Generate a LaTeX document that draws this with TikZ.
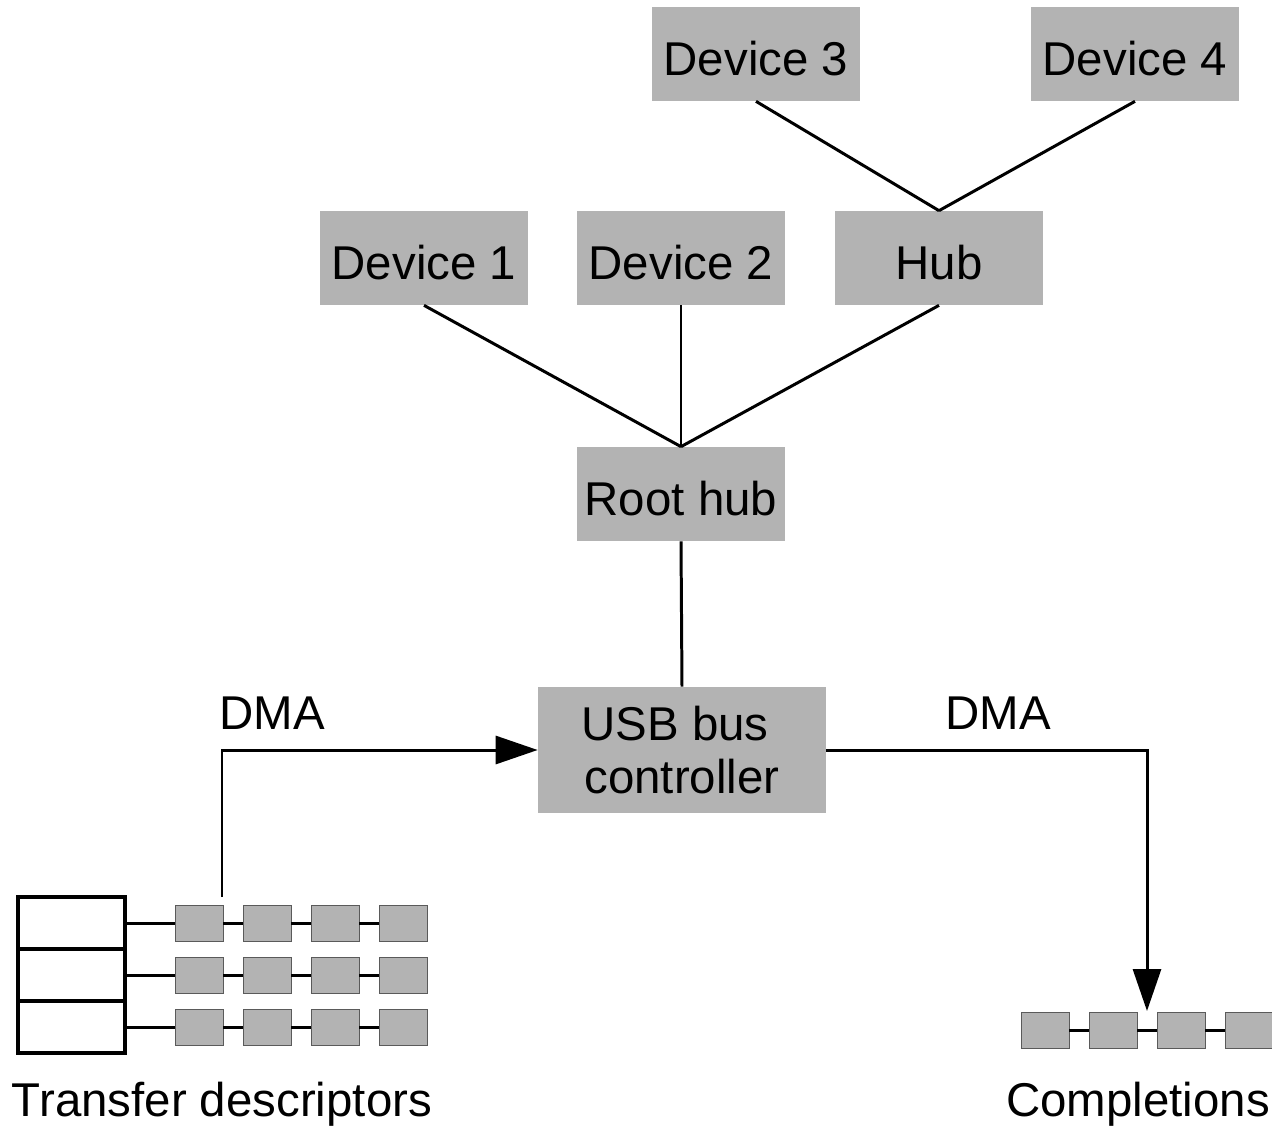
\documentclass[tikz,border=0pt]{standalone}
\usepackage{fontspec}
\setmainfont{Liberation Sans}
\usetikzlibrary{arrows.meta,positioning}
\definecolor{boxgray}{RGB}{179,179,179}
\definecolor{rimgray}{RGB}{90,90,90}
\tikzset{
  unit/.style={
    rectangle, fill=boxgray, inner sep=0pt,
    minimum width=4.18cm, minimum height=1.88cm, text height=0.85cm,
    align=center, font=\fontsize{27}{30}\selectfont
  },
  cell/.style={
    rectangle, fill=boxgray, draw=rimgray, line width=0.5pt,
    minimum width=0.96cm, minimum height=0.72cm, inner sep=0pt
  },
  slot/.style={
    rectangle, draw=black, line width=1.8pt,
    minimum width=2.14cm, minimum height=1.04cm, inner sep=0pt
  },
  wire/.style={line width=1.7pt},
  arr/.style={-{Triangle[length=0.84cm,width=0.56cm]}, line width=1.7pt},
  caption/.style={font=\fontsize{27}{30}\selectfont, inner sep=0pt}
}

\begin{document}
\begin{tikzpicture}[x=0.02cm, y=-0.02cm]
  \useasboundingbox (0,0) rectangle (1272,1126);

  % Bus tree: devices, hubs and the controller
  \node[unit] (dev3) at (756,54)  {Device 3};
  \node[unit] (dev4) at (1135,54) {Device 4};
  \node[unit] (dev1) at (424,258) {Device 1};
  \node[unit] (dev2) at (681,258) {Device 2};
  \node[unit] (hub)  at (939,258) {Hub};
  \node[unit] (root) at (681,494) {Root hub};
  \node[unit, text height=, minimum width=5.76cm, minimum height=2.52cm]
       (ctrl) at (682,750) {USB bus\kern0.28cm\\controller};

  \draw[wire] (dev3.south) -- (hub.north);
  \draw[wire] (dev4.south) -- (hub.north);
  \foreach \d in {dev1,dev2,hub}{
    \draw[wire] (\d.south) -- (root.north);
  }
  \draw[wire] (root.south) -- (ctrl.north);

  % Descriptor table with one chain per slot
  \foreach \r/\y in {1/923,2/975,3/1027}{
    \node[slot] (tab\r) at (71.5,\y) {};
    \foreach \i/\x in {1/199,2/267,3/335,4/403}{
      \node[cell] (q\r\i) at (\x,\y) {};
    }
    \draw[wire] (tab\r.east) -- (q\r1) -- (q\r2) -- (q\r3) -- (q\r4);
  }
  \node[caption] (tdlbl) at (222,1104) {Transfer descriptors};

  % Completion chain
  \foreach \i/\x in {1/1045,2/1113,3/1181,4/1249}{
    \node[cell] (c\i) at (\x,1030) {};
  }
  \draw[wire] (c1) -- (c2) -- (c3) -- (c4);
  \node[caption] (cmplbl) at (1138,1104) {Completions};

  % DMA paths in and out of the controller
  \coordinate (tdout) at (222,897);
  \coordinate (cmpin) at (1147,1011);
  \draw[arr] (tdout) |- (ctrl.west);
  \draw[arr] (ctrl.east) -| (cmpin);
  \node[caption] (dmain)  at (272,713) {DMA};
  \node[caption] (dmaout) at (998,713) {DMA};
\end{tikzpicture}
\end{document}
